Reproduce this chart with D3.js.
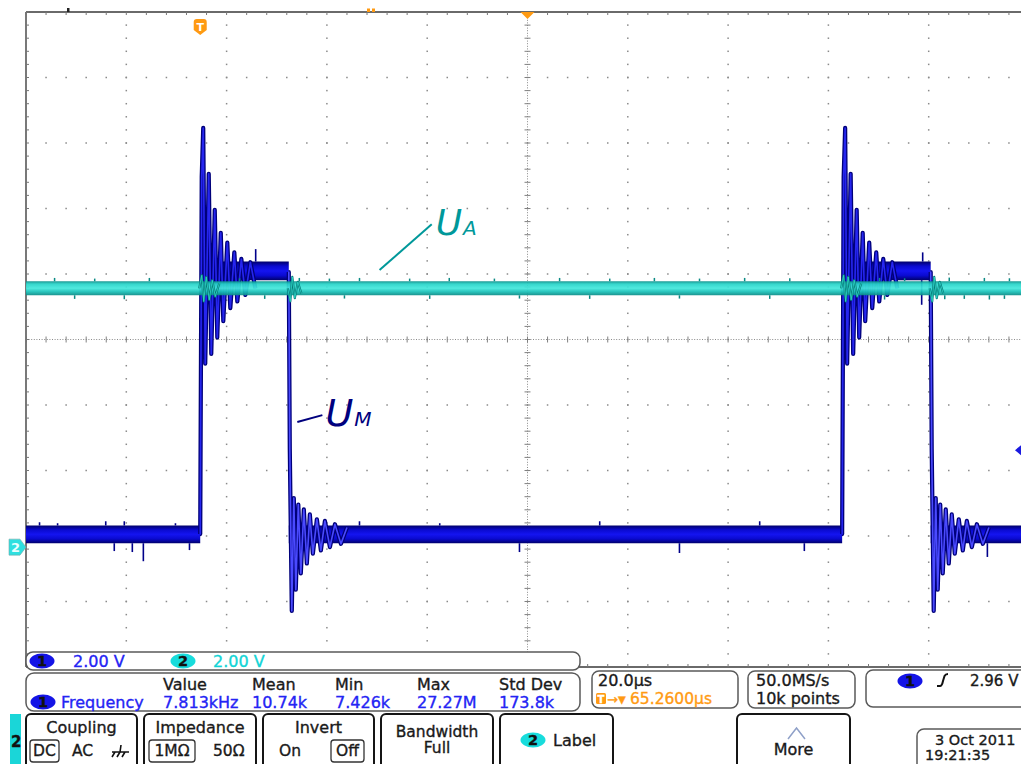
<!DOCTYPE html>
<html lang="de">
<head>
<meta charset="utf-8">
<title>Oszilloskop U_A / U_M</title>
<style>
  body { margin: 0; background: #fff; }
  svg { display: block; background: #fff; }
  .ui { font-family: "DejaVu Sans", sans-serif; }
  .box { fill: #fff; stroke: #5a5a5a; stroke-width: 1.5; }
  .btn { fill: #fff; stroke: #151515; stroke-width: 2; }
  .sel { fill: #fff; stroke: #333; stroke-width: 1.3; }
  .dot { fill: #8a8a8a; }
  .frame { stroke: #6a6a6a; stroke-width: 1.8; }
</style>
<script src="https://d3js.org/d3.v7.min.js"></script>
</head>
<body>
<svg id="scope" width="1021" height="764"></svg>
<script>
// Zeit in µs relativ zur Bildschirmmitte, Spannung in V (beide Kanäle 2 V/div)
const riseTimes = [-65.26, 62.74];
const fallTimes = [-47.6, 80.4];
const ch1LowBand = [0.12, 0.66];
const ch1HighBand = [8.15, 8.72];
const ch2Band = [7.69, 8.12];

// Überschwinger nach steigender Flanke: [dt µs, V]
const riseRing = [
  [-0.05, 0.4], [0.0, 0.4], [0.3, 11.3], [0.6, 12.8], [1.0, 5.6], [1.7, 11.4], [2.2, 5.9],
  [2.9, 10.3], [3.4, 6.4], [4.1, 9.6], [4.6, 6.9], [5.4, 9.3], [6.0, 7.3],
  [6.8, 9.0], [7.4, 7.5], [8.2, 8.8], [9.0, 7.7], [10.0, 8.7], [11.0, 7.9]
];
// Überschwinger nach fallender Flanke: [dt µs, V]
const fallRing = [
  [-0.05, 8.4], [0.0, 8.4], [0.2, 3.0], [0.6, -1.95], [1.0, 1.5], [1.4, -1.3], [1.9, 1.3],
  [2.4, -0.8], [3.0, 1.15], [3.6, -0.5], [4.2, 1.0], [4.8, -0.2], [5.6, 0.85],
  [6.4, -0.1], [7.2, 0.8], [8.2, 0.0], [9.2, 0.7], [10.4, 0.1], [11.6, 0.6]
];
// Einzelne Störspitzen Kanal 1: [t µs, V]
const ch1Glitches = [
  [-97.3, 0.76], [-93.7, 0.73], [-84.1, 0.79], [-82.4, -0.12], [-80.4, 0.79],
  [-78.8, -0.15], [-76.6, -0.43], [-70.2, 0.73], [-67.4, -0.09], [-54.2, 9.1],
  [-33.5, 0.79], [-17.5, 0.73], [-1.6, -0.15], [14.4, 0.79], [30.3, -0.18],
  [46.3, 0.79], [55.2, -0.12], [78.6, 7.4], [78.8, 9.0], [91.7, -0.3]
];
// Kanal 2 Störspitzen: [t µs, V]
const ch2Glitches = [
  [-94.3, 8.22], [-90.3, 7.58], [-86.3, 8.2], [-80.4, 7.57], [-75.4, 8.22], [-57.4, 8.21],
  [-52.4, 7.58], [-45.5, 8.22], [-39.5, 8.2], [-36.5, 7.59], [-33.5, 8.22], [-23.5, 8.2],
  [-19.5, 7.58], [-15.6, 8.22], [-6.6, 8.2], [-1.6, 7.59], [6.4, 8.22], [12.4, 7.58],
  [16.4, 8.2], [25.3, 8.22], [30.3, 7.59], [34.3, 8.2], [43.3, 8.22], [48.3, 7.58],
  [52.3, 8.21], [70.2, 8.22], [71.2, 7.56], [75.2, 8.21], [83.2, 7.57], [84.1, 8.23],
  [87.1, 7.58], [91.1, 8.22], [92.1, 7.56], [95.1, 7.58], [96.1, 8.21]
];
const ch2RiseRing = [[-0.2, 7.9], [0.3, 8.3], [0.7, 7.5], [1.2, 8.25], [1.8, 7.55], [2.4, 8.15], [3.0, 7.65], [3.8, 8.05]];
const ch2FallRing = [[-0.2, 7.9], [0.3, 7.5], [0.7, 8.25], [1.2, 7.6], [1.8, 8.1], [2.5, 7.75]];

const triggerTime = -65.26;
const triggerLevel = 2.96;

// ---- Skalen ----
const svg = d3.select("#scope");
const x = d3.scaleLinear().domain([-100, 100]).range([26, 1029]);
const yDiv = d3.scaleLinear().domain([-5, 5]).range([667, 12]);
const voltsPerDiv = 2, gndDiv = -3.17;
const yV = v => yDiv(v / voltsPerDiv + gndDiv);

const defs = svg.append("defs");
defs.append("clipPath").attr("id", "grat").append("rect")
  .attr("x", 26).attr("y", 12).attr("width", 1003).attr("height", 655);
function grad(id, stops) {
  const g = defs.append("linearGradient").attr("id", id)
    .attr("x1", 0).attr("y1", 0).attr("x2", 0).attr("y2", 1);
  stops.forEach(([o, c]) => g.append("stop").attr("offset", o).attr("stop-color", c));
}
grad("blueBand", [[0, "#00006a"], [0.25, "#0a0ad0"], [0.5, "#1414f0"], [0.75, "#0a0ad0"], [1, "#00006a"]]);
grad("cyanBand", [[0, "#0b8f8a"], [0.2, "#27d3c8"], [0.5, "#44e8dc"], [0.75, "#19c0b7"], [1, "#0b8a86"]]);

// ---- Raster ----
const grid = svg.append("g").attr("clip-path", "url(#grat)");
const timeGrid = d3.range(-80, 100, 20);
const divGrid = d3.range(-4, 5, 1);
const minorDiv = d3.range(-5, 5.001, 0.2);
const minorTime = d3.range(-100, 100.001, 4);

timeGrid.filter(t => t !== 0).forEach(t => {
  grid.selectAll(null).data(minorDiv).join("rect").attr("class", "dot")
    .attr("x", x(t) - 0.75).attr("y", d => yDiv(d) - 0.75).attr("width", 1.5).attr("height", 1.5);
});
divGrid.filter(d => d !== 0).forEach(dv => {
  grid.selectAll(null).data(minorTime).join("rect").attr("class", "dot")
    .attr("x", t => x(t) - 0.75).attr("y", yDiv(dv) - 0.75).attr("width", 1.5).attr("height", 1.5);
});
// Mittelachsen
grid.append("line").attr("x1", x(0)).attr("x2", x(0)).attr("y1", 12).attr("y2", 667)
  .attr("stroke", "#8a8a8a").attr("stroke-width", 1).attr("stroke-dasharray", "1,1.6");
grid.append("line").attr("x1", 26).attr("x2", 1029).attr("y1", yDiv(0)).attr("y2", yDiv(0))
  .attr("stroke", "#8a8a8a").attr("stroke-width", 1).attr("stroke-dasharray", "1,1.6");
grid.selectAll(null).data(minorDiv).join("line")
  .attr("x1", x(0) - 3).attr("x2", x(0) + 3).attr("y1", d => yDiv(d)).attr("y2", d => yDiv(d))
  .attr("stroke", "#808080").attr("stroke-width", 1);
grid.selectAll(null).data(minorTime).join("line")
  .attr("x1", t => x(t)).attr("x2", t => x(t)).attr("y1", yDiv(0) - 3).attr("y2", yDiv(0) + 3)
  .attr("stroke", "#808080").attr("stroke-width", 1);
// Rahmen mit Teilstrichen
svg.append("line").attr("class", "frame").attr("x1", 26).attr("x2", 1021).attr("y1", 12).attr("y2", 12);
svg.append("line").attr("class", "frame").attr("x1", 26).attr("x2", 26).attr("y1", 12).attr("y2", 667);
svg.append("line").attr("class", "frame").attr("x1", 26).attr("x2", 1021).attr("y1", 667).attr("y2", 667);
svg.selectAll(null).data(minorTime).join("line")
  .attr("x1", t => x(t)).attr("x2", t => x(t)).attr("y1", 12).attr("y2", 15).attr("stroke", "#777");
svg.selectAll(null).data(minorTime).join("line")
  .attr("x1", t => x(t)).attr("x2", t => x(t)).attr("y1", 664).attr("y2", 667).attr("stroke", "#777");
svg.selectAll(null).data(minorDiv).join("line")
  .attr("x1", 26).attr("x2", 29).attr("y1", d => yDiv(d)).attr("y2", d => yDiv(d)).attr("stroke", "#777");

// ---- Kanal 1 (U_M) ----
const traces = svg.append("g").attr("clip-path", "url(#grat)");
const lineGen = d3.line().x(d => x(d[0])).y(d => yV(d[1]));
const bounds = [-100, riseTimes[0], fallTimes[0], riseTimes[1], fallTimes[1], 100];
d3.pairs(bounds).forEach(([t0, t1], i) => {
  const band = i % 2 ? ch1HighBand : ch1LowBand;
  traces.append("path")
    .attr("d", d3.area().x(d => x(d)).y0(yV(band[0])).y1(yV(band[1]))([t0, t1]))
    .attr("fill", "url(#blueBand)");
});
const inHigh = t => riseTimes.some((r, i) => t > r && t < fallTimes[i]);
const edgeOf = (band, v) => yV(v > d3.mean(band) ? band[1] : band[0]);
traces.selectAll(null).data(ch1Glitches).join("line")
  .attr("x1", d => x(d[0])).attr("x2", d => x(d[0]))
  .attr("y1", d => edgeOf(inHigh(d[0]) ? ch1HighBand : ch1LowBand, d[1]))
  .attr("y2", d => yV(d[1]))
  .attr("stroke", "#00008a").attr("stroke-width", 1.6);

function ring(t0, pts, under, over, wu, wo) {
  const data = pts.map(([dt, v]) => [t0 + dt, v]);
  traces.append("path").attr("d", lineGen(data)).attr("fill", "none")
    .attr("stroke", under).attr("stroke-width", wu).attr("stroke-linejoin", "round");
  traces.append("path").attr("d", lineGen(data)).attr("fill", "none")
    .attr("stroke", over).attr("stroke-width", wo).attr("stroke-linejoin", "round");
}
riseTimes.forEach(t => ring(t, riseRing, "#00007a", "#2626f0", 4.2, 1.6));
fallTimes.forEach(t => ring(t, fallRing, "#00007a", "#4a4aff", 4.2, 1.6));

// ---- Kanal 2 (U_A) ----
traces.append("path")
  .attr("d", d3.area().x(d => x(d)).y0(yV(ch2Band[0])).y1(yV(ch2Band[1]))([-100, 100]))
  .attr("fill", "url(#cyanBand)").attr("opacity", 0.93);
traces.selectAll(null).data(ch2Glitches).join("line")
  .attr("x1", d => x(d[0])).attr("x2", d => x(d[0]))
  .attr("y1", d => edgeOf(ch2Band, d[1])).attr("y2", d => yV(d[1]))
  .attr("stroke", "#0a8a84").attr("stroke-width", 1.5);
riseTimes.forEach(t => ring(t, ch2RiseRing, "#067a76", "#2fd8cc", 2.2, 0.8));
fallTimes.forEach(t => ring(t, ch2FallRing, "#067a76", "#2fd8cc", 2.2, 0.8));

// ---- Beschriftung U_A / U_M ----
const labels = [
  { name: "U", sub: "A", color: "#00989a", from: [-29.5, 8.46], to: [-19.1, 9.86], at: [-18.3, 9.53], size: 36, subSize: 20 },
  { name: "U", sub: "M", color: "#00007e", from: [-45.9, 3.82], to: [-40.9, 4.03], at: [-40.3, 3.69], size: 38, subSize: 20 }
];
labels.forEach(l => {
  svg.append("line")
    .attr("x1", x(l.from[0])).attr("y1", yV(l.from[1])).attr("x2", x(l.to[0])).attr("y2", yV(l.to[1]))
    .attr("stroke", l.color).attr("stroke-width", 2);
  const t = svg.append("text").attr("class", "ui").attr("x", x(l.at[0])).attr("y", yV(l.at[1]))
    .attr("fill", l.color).attr("font-style", "italic").attr("font-size", l.size);
  t.append("tspan").text(l.name);
  t.append("tspan").attr("font-size", l.subSize).attr("dx", 1).text(l.sub);
});

// ---- Marker ----
const orange = "#ff9a12";
const tx = x(triggerTime);
svg.append("path")
  .attr("d", `M${tx - 6.5},22 q0,-3 3,-3 h7 q3,0 3,3 v8 l-6.5,5 l-6.5,-5 z`).attr("fill", orange);
svg.append("text").attr("class", "ui").attr("x", tx).attr("y", 31).attr("text-anchor", "middle")
  .attr("fill", "#fff").attr("font-size", 11).attr("font-weight", "bold").text("T");
svg.append("path").attr("d", `M${x(0) - 7},12 L${x(0) + 7},12 L${x(0)},19 z`).attr("fill", orange);
svg.append("rect").attr("x", 367).attr("y", 8.5).attr("width", 3).attr("height", 3.5).attr("fill", orange);
svg.append("rect").attr("x", 372).attr("y", 8.5).attr("width", 3).attr("height", 3.5).attr("fill", orange);
svg.append("rect").attr("x", 67).attr("y", 8).attr("width", 2.5).attr("height", 4).attr("fill", "#222");
const g2 = yV(0);
svg.append("path").attr("d", `M9,${g2 - 8} H20 L26,${g2} L20,${g2 + 8} H9 z`)
  .attr("fill", "#2ee0e0").attr("stroke", "#7aa").attr("stroke-width", 0.6);
svg.append("text").attr("class", "ui").attr("x", 11).attr("y", g2 + 5).attr("fill", "#e8ffff")
  .attr("font-size", 13).attr("font-weight", "bold").text("2");
const tl = yV(triggerLevel);
svg.append("path").attr("d", `M1021,${tl - 5} L1015,${tl} L1021,${tl + 5} z`).attr("fill", "#1a1ae0");

// ---- Statusanzeige unten ----
const ui = svg.append("g");
function txt(px, py, s, fill = "#1a1a1a", size = 16, anchor = "start") {
  return ui.append("text").attr("class", "ui").attr("x", px).attr("y", py)
    .attr("fill", fill).attr("font-size", size).attr("text-anchor", anchor)
    .attr("stroke", fill).attr("stroke-width", 0.35).text(s);
}
function rbox(px, py, w, h, r, cls) {
  return ui.append("rect").attr("x", px).attr("y", py).attr("width", w).attr("height", h)
    .attr("rx", r).attr("class", cls);
}
function badge(cx, cy, n, fill) {
  ui.append("ellipse").attr("cx", cx).attr("cy", cy).attr("rx", 12.5).attr("ry", 7.4).attr("fill", fill);
  txt(cx, cy + 5, n, "#111", 14.5, "middle").attr("font-weight", "bold");
}
const blueTxt = "#2424f4", cyanTxt = "#12d4d6";

rbox(26, 652, 554, 18, 7, "box");
badge(42, 661, "1", "#1414e6");
txt(73, 667, "2.00 V", blueTxt);
badge(183, 661, "2", "#18dcdc");
txt(213, 667, "2.00 V", cyanTxt);

rbox(26, 673, 554, 38, 8, "box");
const measHead = ["Value", "Mean", "Min", "Max", "Std Dev"];
const measVals = ["7.813kHz", "10.74k", "7.426k", "27.27M", "173.8k"];
const measX = [163, 252, 335, 417, 499];
measHead.forEach((h, i) => txt(measX[i], 690, h));
measVals.forEach((v, i) => txt(measX[i], 708, v, blueTxt));
badge(43, 702, "1", "#1414e6");
txt(61, 708, "Frequency", blueTxt);

rbox(592, 671, 146, 37, 7, "box");
txt(598, 686, "20.0µs");
ui.append("rect").attr("x", 596).attr("y", 693).attr("width", 10).attr("height", 11).attr("rx", 1.5).attr("fill", orange);
txt(601, 703, "T", "#fff", 10, "middle").attr("font-weight", "bold");
txt(607, 704, "→", orange, 13);
txt(618, 703, "▼", orange, 10);
txt(630, 704, "65.2600µs", orange, 15.5);

rbox(748, 671, 107, 37, 7, "box");
txt(756, 686, "50.0MS/s");
txt(756, 704, "10k points");

rbox(866, 670, 170, 37, 7, "box");
badge(910, 681, "1", "#1414e6");
ui.append("path").attr("d", "M937,686 H940 Q942,686 943,681 L944.5,676 Q945.5,674 948,674")
  .attr("fill", "none").attr("stroke", "#111").attr("stroke-width", 2);
txt(970, 686, "2.96 V", "#1a1a1a", 15);

// Menütasten
rbox(26, 714, 111, 60, 5, "btn");
txt(81.5, 733, "Coupling", "#1a1a1a", 16, "middle");
rbox(30, 740, 29, 22, 3, "sel");
txt(44.5, 756, "DC", "#1a1a1a", 15.5, "middle");
txt(72, 756, "AC", "#1a1a1a", 15.5);
ui.append("path").attr("d", "M121,745 L120,752 M112,752 H129 M115,752 L112,757 M120,752 L117,757 M125,752 L122,757")
  .attr("fill", "none").attr("stroke", "#111").attr("stroke-width", 1.6);

rbox(144, 714, 112, 60, 5, "btn");
txt(200, 733, "Impedance", "#1a1a1a", 16, "middle");
rbox(149, 740, 46, 22, 3, "sel");
txt(172, 756, "1MΩ", "#1a1a1a", 15.5, "middle");
txt(213, 756, "50Ω", "#1a1a1a", 15.5);

rbox(263, 714, 111, 60, 5, "btn");
txt(318.5, 733, "Invert", "#1a1a1a", 16, "middle");
txt(279, 756, "On", "#1a1a1a", 15.5);
rbox(331, 740, 33, 22, 3, "sel");
txt(347.5, 756, "Off", "#1a1a1a", 15.5, "middle");

rbox(381, 714, 112, 60, 5, "btn");
txt(437, 737, "Bandwidth", "#1a1a1a", 15.5, "middle");
txt(437, 753, "Full", "#1a1a1a", 15.5, "middle");

rbox(500, 714, 113, 60, 5, "btn");
badge(533, 740, "2", "#18dcdc");
txt(553, 746, "Label", "#1a1a1a", 16);

rbox(737, 714, 113, 60, 5, "btn");
ui.append("path").attr("d", "M788,739 L796.5,728 L805,739").attr("fill", "none")
  .attr("stroke", "#8fa0c8").attr("stroke-width", 1.5);
txt(793.5, 755, "More", "#1a1a1a", 16, "middle");

rbox(917, 729, 120, 45, 7, "box");
txt(935, 745, "3 Oct  2011", "#1a1a1a", 14.5);
txt(925, 760, "19:21:35", "#1a1a1a", 14.5);

ui.append("rect").attr("x", 10).attr("y", 714).attr("width", 11).attr("height", 50).attr("fill", "#1ad6d8");
txt(11, 747, "2", "#111", 15).attr("font-weight", "bold");
</script>
</body>
</html>
